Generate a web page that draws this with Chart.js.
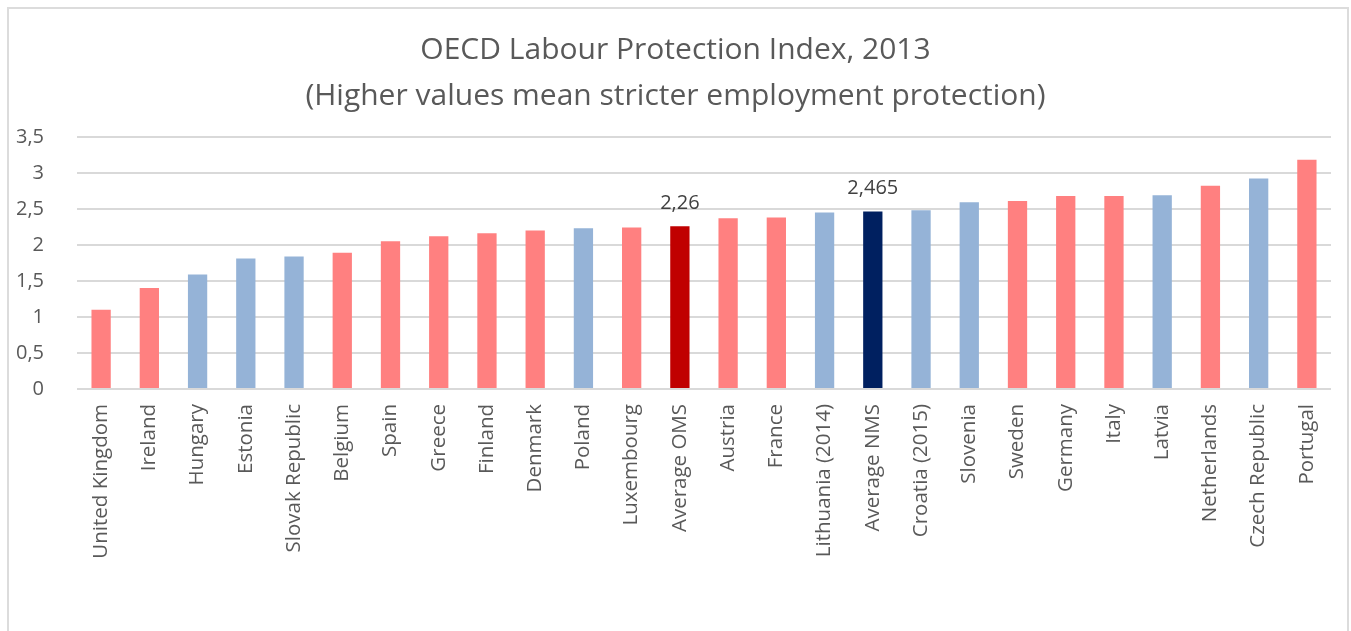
<!DOCTYPE html>
<html>
<head>
<meta charset="utf-8">
<script src="https://cdn.jsdelivr.net/npm/chart.js@4.4.0/dist/chart.umd.min.js"></script>
<style>
html, body { margin: 0; padding: 0; background: #fff; overflow: hidden; }
#frame { position: absolute; left: 7px; top: 7px; width: 1342px; height: 700px; border: 2px solid #dcdcdc; box-sizing: border-box; }
#wrap { position: absolute; left: 0; top: 0; width: 1351px; height: 631px; }
</style>
</head>
<body>
<div id="frame"></div>
<div id="wrap"><canvas id="myChart"></canvas></div>
<script>
// categories, left to right
const countries = [
  'United Kingdom', 'Ireland', 'Hungary', 'Estonia', 'Slovak Republic', 'Belgium',
  'Spain', 'Greece', 'Finland', 'Denmark', 'Poland', 'Luxembourg', 'Average OMS',
  'Austria', 'France', 'Lithuania (2014)', 'Average NMS', 'Croatia (2015)', 'Slovenia',
  'Sweden', 'Germany', 'Italy', 'Latvia', 'Netherlands', 'Czech Republic', 'Portugal'
];
// index values
const scores = [
  1.10, 1.40, 1.59, 1.81, 1.84, 1.89,
  2.05, 2.12, 2.16, 2.20, 2.23, 2.24, 2.26,
  2.37, 2.38, 2.45, 2.465, 2.48, 2.59,
  2.61, 2.68, 2.68, 2.69, 2.82, 2.92, 3.18
];
// old member states (old), new member states (new), and the two averages
const groups = [
  'old', 'old', 'new', 'new', 'new', 'old',
  'old', 'old', 'old', 'old', 'new', 'old', 'oldAvg',
  'old', 'old', 'new', 'newAvg', 'new', 'new',
  'old', 'old', 'old', 'new', 'old', 'new', 'old'
];
const groupColours = { old: '#ff8080', new: '#95b3d7', oldAvg: '#c00000', newAvg: '#002060' };
const labelledBars = ['Average OMS', 'Average NMS'];
const yTicks = [0, 0.5, 1, 1.5, 2, 2.5, 3, 3.5];

const txt = '#595959';
const fontName = "'Open Sans', sans-serif";
const comma = v => String(v).replace('.', ',');

// prints the value above the two average bars
const valueLabels = {
  id: 'valueLabels',
  afterDatasetsDraw(chart) {
    const c = chart.ctx;
    const meta = chart.getDatasetMeta(0);
    c.save();
    c.font = '20px ' + fontName;
    c.fillStyle = '#404040';
    c.textAlign = 'center';
    c.textBaseline = 'bottom';
    meta.data.forEach((bar, i) => {
      if (labelledBars.includes(countries[i])) {
        c.fillText(comma(scores[i]), bar.x, bar.y - 13);
      }
    });
    c.restore();
  }
};

const ctx = document.getElementById('myChart').getContext('2d');
const myChart = new Chart(ctx, {
  type: 'bar',
  data: {
    labels: countries,
    datasets: [{
      data: scores,
      backgroundColor: groups.map(g => groupColours[g]),
      barPercentage: 0.8,
      categoryPercentage: 0.5
    }]
  },
  options: {
    responsive: true,
    maintainAspectRatio: false,
    animation: false,
    layout: { padding: { left: 0, right: 0, top: 28, bottom: 0 } },
    plugins: {
      legend: { display: false },
      tooltip: { enabled: false },
      title: {
        display: true,
        text: ['OECD Labour Protection Index, 2013', '(Higher values mean stricter employment protection)'],
        color: txt,
        font: { family: fontName, size: 30, weight: 'normal', lineHeight: 1.53 },
        padding: { top: 0, bottom: 17 }
      }
    },
    scales: {
      x: {
        grid: { display: false, drawTicks: false },
        border: { display: false },
        ticks: {
          color: txt,
          font: { family: fontName, size: 20.5 },
          minRotation: 90,
          maxRotation: 90,
          autoSkip: false,
          padding: 15
        },
        afterFit(scale) { scale.height = 631 - 389; }
      },
      y: {
        min: 0,
        max: 3.5,
        afterBuildTicks(scale) { scale.ticks = yTicks.map(v => ({ value: v })); },
        grid: { color: '#d9d9d9', lineWidth: 2, drawTicks: false },
        border: { display: false },
        ticks: {
          color: txt,
          font: { family: fontName, size: 20 },
          padding: 33,
          callback: v => comma(v)
        },
        afterFit(scale) { scale.width = 77; }
      },
      // empty right-hand axis, only keeps a margin on the right
      yRight: {
        position: 'right',
        grid: { display: false, drawTicks: false },
        border: { display: false },
        ticks: { display: false },
        afterFit(scale) { scale.width = 20; }
      }
    }
  },
  plugins: [valueLabels]
});
</script>
</body>
</html>
